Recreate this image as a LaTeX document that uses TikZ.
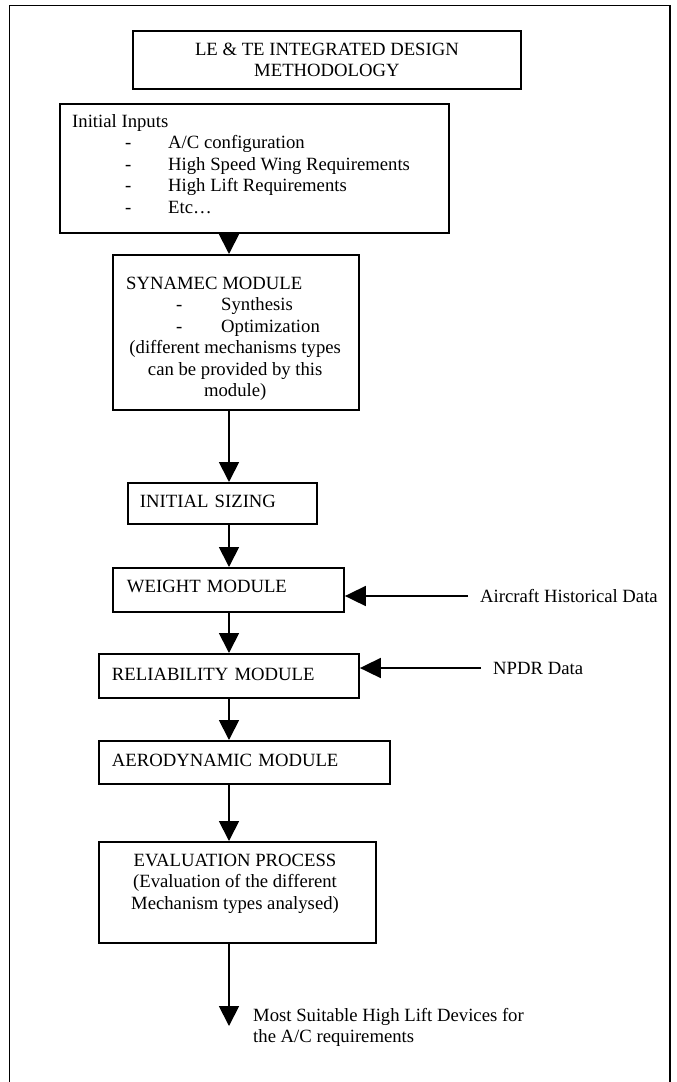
\documentclass[tikz,border=0pt]{standalone}
\usepackage{fontspec}
\setmainfont{Liberation Serif}
\usetikzlibrary{arrows.meta}
\begin{document}
\begin{tikzpicture}[x=1pt,y=-1pt,
  every node/.style={font=\fontsize{18.7}{21.5}\selectfont, inner sep=0pt},
  box/.style={draw, line width=1.9pt, anchor=north west},
  onebox/.style={box, align=left, text height=12.4pt, text depth=5pt},
  txt/.style={align=left, anchor=north west},
  ctxt/.style={align=center, anchor=north},
  arr/.style={line width=1.8pt, -{Triangle[width=20pt,length=20pt]}},
  harr/.style={line width=1.8pt, -{Triangle[width=20pt,length=21pt]}},
  lab/.style={anchor=west, inner xsep=12pt}]
\useasboundingbox (0,0) rectangle (677,1082);
% outer frame
\draw[line width=1.9pt] (9.5,1095) -- (9.5,5.5) -- (670,5.5) -- (670,1095);
% axis for the vertical flow
\coordinate (ax) at (229,0);
% title
\node[box, align=center, minimum width=388pt, minimum height=58pt] (title) at (132,30)
  {LE \& TE INTEGRATED DESIGN\\METHODOLOGY};
% initial inputs
\node[box, minimum width=389pt, minimum height=129pt] (inp) at (59,103) {};
\node[txt] (inpt) at (72,112.15)
  {\strut Initial Inputs\\
   \hspace*{53pt}\makebox[43pt][l]{-}A/C configuration\\
   \hspace*{53pt}\makebox[43pt][l]{-}High Speed Wing Requirements\\
   \hspace*{53pt}\makebox[43pt][l]{-}High Lift Requirements\\
   \hspace*{53pt}\makebox[43pt][l]{-}Etc\ldots};
% synamec
\node[box, minimum width=246pt, minimum height=155pt] (syn) at (112,254) {};
\node[txt] (synt) at (126,274.15)
  {\strut SYNAMEC MODULE\\
   \hspace*{50pt}\makebox[45pt][l]{-}Synthesis\\
   \hspace*{50pt}\makebox[45pt][l]{-}Optimization\\
   \makebox[218pt][c]{(different mechanisms types}\\
   \makebox[218pt][c]{can be provided by this}\\
   \makebox[218pt][c]{module)}};
% single line boxes
\node[onebox, minimum width=189pt, minimum height=41pt, text width=165pt] (size) at (127,482)
  {INITIAL SIZING};
\node[onebox, minimum width=231pt, minimum height=44pt, text width=203pt, text depth=7pt] (wt) at (112,567)
  {WEIGHT MODULE};
\node[onebox, minimum width=260.3pt, minimum height=44pt, text width=233.7pt, text depth=4pt] (rel) at (97.7,653)
  {RELIABILITY MODULE};
\node[onebox, minimum width=291.3pt, minimum height=43pt, text width=264.7pt] (aero) at (97.7,740)
  {AERODYNAMIC MODULE};
% evaluation
\node[box, minimum width=277.3pt, minimum height=101pt] (ev) at (97.7,841) {};
\node[ctxt] (evt) at (235,851.15)
  {\strut EVALUATION PROCESS\\(Evaluation of the different\\Mechanism types analysed)};
% side inputs
\node[lab] (ahd) at (468,596) {Aircraft Historical Data};
\node[lab] (npdr) at (481,668) {NPDR Data};
% result
\coordinate (out) at (229,1026);
\node[txt] (res) at (253,1006.15)
  {\strut Most Suitable High Lift Devices for\\the A/C requirements};
% connectors
\draw[arr] (inp.south -| ax) -- (syn.north -| ax);
\draw[arr] (syn.south -| ax) -- (size.north -| ax);
\draw[arr] (size.south -| ax) -- (wt.north -| ax);
\draw[arr] (wt.south -| ax) -- (rel.north -| ax);
\draw[arr] (rel.south -| ax) -- (aero.north -| ax);
\draw[arr] (aero.south -| ax) -- (ev.north -| ax);
\draw[arr] (ev.south -| ax) -- (out);
\draw[harr] (ahd.west) -- (wt.east |- ahd.west);
\draw[harr] (npdr.west) -- (rel.east |- npdr.west);
\end{tikzpicture}
\end{document}
